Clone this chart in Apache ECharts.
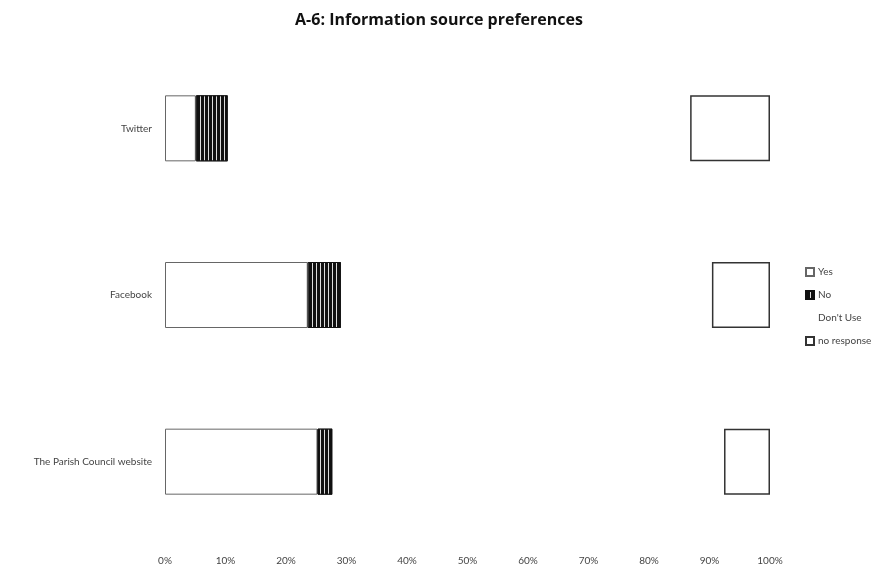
<!DOCTYPE html>
<html>
<head>
<meta charset="utf-8">
<script src="https://cdn.jsdelivr.net/npm/echarts@6/dist/echarts.min.js"></script>
<style>html,body{margin:0;padding:0;background:#fff}#c{width:878px;height:569px}</style>
</head>
<body>
<div id="c"></div>
<script>
const categories = ['The Parish Council website', 'Facebook', 'Twitter'];
const seriesNames = ['Yes', 'No', "Don't Use", 'no response'];
const yesVals = [25.2, 23.6, 5.1];
const noVals = [2.5, 5.5, 5.3];
const dontUseVals = [64.7, 61.3, 76.4];
const noRespVals = [7.6, 9.6, 13.2];
const xTicks = [0, 10, 20, 30, 40, 50, 60, 70, 80, 90, 100];

const chart = echarts.init(document.getElementById('c'));
const fontFam = 'Lato, "Open Sans", sans-serif';
const barW = 66;
chart.setOption({
  animation: false,
  backgroundColor: '#fff',
  title: {
    text: 'A-6: Information source preferences',
    left: 'center', top: 7,
    textStyle: { fontFamily: '"Open Sans", sans-serif', fontWeight: 'bold', fontSize: 16, color: '#111' }
  },
  legend: {
    orient: 'vertical', left: 800, top: 262, itemGap: 13,
    itemWidth: 8, itemHeight: 8, icon: 'rect',
    textStyle: { fontFamily: fontFam, fontSize: 10, color: '#444', padding: [0, 0, 0, -1] },
    data: seriesNames
  },
  grid: { left: 165, right: 108, top: 45, bottom: 24 },
  xAxis: {
    type: 'value', min: 0, max: 100, interval: 10,
    axisLine: { show: false }, axisTick: { show: false }, splitLine: { show: false },
    axisLabel: { formatter: v => xTicks.includes(v) ? v + '%' : '', fontFamily: fontFam, fontSize: 10, color: '#444', margin: 11 }
  },
  yAxis: {
    type: 'category', data: categories,
    axisLine: { show: false }, axisTick: { show: false },
    axisLabel: { fontFamily: fontFam, fontSize: 10, color: '#444', margin: 13 }
  },
  series: [
    { name: 'Yes', type: 'bar', stack: 's', barWidth: barW, data: yesVals,
      itemStyle: { color: '#fff', borderColor: '#666', borderWidth: 1 } },
    { name: 'No', type: 'bar', stack: 's', barWidth: barW, data: noVals,
      itemStyle: { color: '#111', borderColor: '#111', borderWidth: 1,
        decal: { symbol: 'rect', color: '#ddd', dashArrayX: [1, 3], dashArrayY: [10, 0], symbolSize: 1, rotation: 0 } } },
    { name: "Don't Use", type: 'bar', stack: 's', barWidth: barW, data: dontUseVals,
      itemStyle: { color: '#fff', borderColor: '#ddd', borderWidth: 0 } },
    { name: 'no response', type: 'bar', stack: 's', barWidth: barW, data: noRespVals,
      itemStyle: { color: '#fff', borderColor: '#333', borderWidth: 1.5 } }
  ]
});
</script>
</body>
</html>
